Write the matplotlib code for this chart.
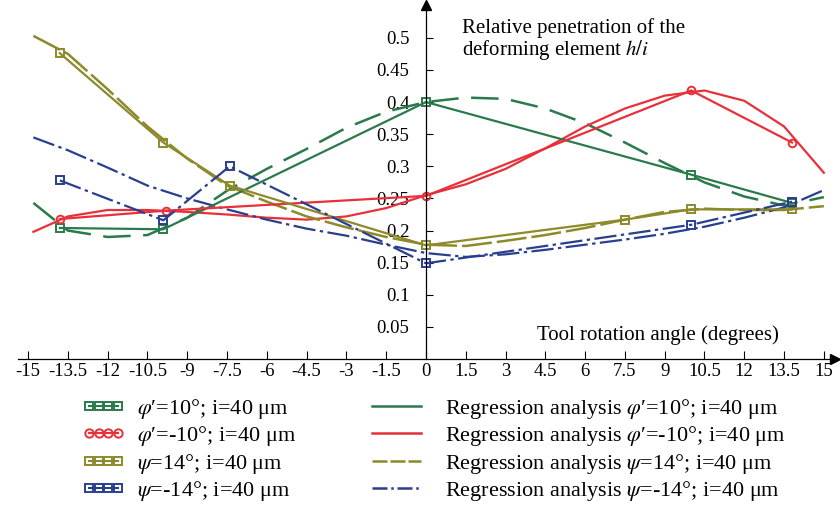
import numpy as np
import matplotlib.pyplot as plt
from matplotlib.lines import Line2D

plt.rcParams['font.family'] = ['Liberation Serif', 'DejaVu Serif']
plt.rcParams['mathtext.fontset'] = 'stix'

# measured points
x_phi_pos = [-13.8, -9.9, 0, 10, 13.8]
y_phi_pos = [0.204, 0.202, 0.400, 0.287, 0.243]
x_phi_neg = [-13.8, -9.8, 0, 10, 13.8]
y_phi_neg = [0.218, 0.231, 0.254, 0.418, 0.337]
x_psi_pos = [-13.8, -9.9, -7.4, 0, 7.5, 10, 13.8]
y_psi_pos = [0.476, 0.337, 0.270, 0.177, 0.217, 0.233, 0.233]
x_psi_neg = [-13.8, -9.9, -7.4, 0, 10, 13.8]
y_psi_neg = [0.278, 0.216, 0.300, 0.149, 0.209, 0.245]

# regression curves (read every 1.5 degrees)
x_reg = [-14.8, -13.5, -12, -10.5, -9, -7.5, -6, -4.5, -3, -1.5, 0,
         1.5, 3, 4.5, 6, 7.5, 9, 10.5, 12, 13.5, 15]
reg_phi_pos = [0.243, 0.200, 0.190, 0.193, 0.220, 0.262, 0.296, 0.327, 0.360, 0.385, 0.400,
               0.407, 0.405, 0.390, 0.367, 0.337, 0.305, 0.275, 0.253, 0.239, 0.252]
reg_phi_neg = [0.198, 0.222, 0.232, 0.232, 0.229, 0.225, 0.220, 0.217, 0.222, 0.235, 0.255,
               0.272, 0.296, 0.328, 0.362, 0.390, 0.410, 0.418, 0.402, 0.362, 0.290]
reg_psi_pos = [0.503, 0.475, 0.420, 0.362, 0.312, 0.270, 0.245, 0.222, 0.205, 0.190, 0.178,
               0.176, 0.184, 0.193, 0.204, 0.217, 0.229, 0.234, 0.232, 0.232, 0.238]
reg_psi_neg = [0.345, 0.325, 0.298, 0.270, 0.250, 0.233, 0.217, 0.203, 0.192, 0.178, 0.165,
               0.159, 0.163, 0.170, 0.178, 0.186, 0.195, 0.206, 0.220, 0.236, 0.263]

x_ticks = np.arange(-15, 15.01, 1.5)
y_ticks = np.arange(0.05, 0.501, 0.05)

green = '#2b7a4b'
red = '#e8303a'
olive = '#8c8a2a'
blue = '#283f8e'

fig = plt.figure(figsize=(8.4, 5.05), dpi=100)
ax = fig.add_axes([18 / 840, 0.289, 817 / 840, 0.701])
ax.set_xlim(-15.38, 15.42)
ax.set_ylim(0, 0.551)

mk = dict(marker='s', ms=6, mfc='none', mew=1.4, lw=1.6)
ax.plot(x_reg, reg_phi_pos, color=green, lw=1.8, dashes=(11, 5))
ax.plot(x_reg, reg_phi_neg, color=red, lw=1.6)
ax.plot(x_reg, reg_psi_pos, color=olive, lw=1.8, dashes=(12, 2))
ax.plot(x_reg, reg_psi_neg, color=blue, lw=1.6, dashes=(10, 2, 1.5, 2))
ax.plot(x_phi_pos, y_phi_pos, color=green, **mk)
ax.plot(x_phi_neg, y_phi_neg, color=red, **dict(mk, marker='o', ms=5.5))
ax.plot(x_psi_pos, y_psi_pos, color=olive, **mk)
ax.plot(x_psi_neg, y_psi_neg, color=blue, dashes=(10, 2, 1.5, 2), **mk)

# axes through origin with arrows
for s in ['top', 'right']:
    ax.spines[s].set_visible(False)
ax.spines['left'].set_position(('data', 0))
ax.spines['bottom'].set_position(('data', 0))
ax.spines['left'].set_linewidth(0.9)
ax.spines['bottom'].set_linewidth(0.9)
ax.plot(1, 0, '>k', ms=7, transform=ax.get_yaxis_transform(), clip_on=False)
ax.plot(0, 1, '^k', ms=7, transform=ax.get_xaxis_transform(), clip_on=False)

ax.set_xticks(x_ticks)
ax.set_xticklabels(['%g' % v for v in x_ticks])
ax.set_yticks(y_ticks)
ax.set_yticklabels(['%g' % v for v in y_ticks])
ax.tick_params(axis='x', direction='in', length=6, width=0.8, pad=3, labelsize=13.5)
ax.tick_params(axis='y', direction='in', length=5, width=0.8, pad=12, labelsize=13.5)

ax.text(1.35, 0.53, 'Relative penetration of the\ndeforming element $h/i$',
        fontsize=15, va='top', ha='left', linespacing=1.0)
ax.text(4.2, 0.038, 'Tool rotation angle (degrees)', fontsize=15, va='center', ha='left')

# legends
lab_pts = ["$\\varphi$′=10°; i=40 μm", "$\\varphi$′=-10°; i=40 μm",
           "$\\psi$=14°; i=40 μm", "$\\psi$=-14°; i=40 μm"]
h_pts = [Line2D([], [], color=green, marker='s', ms=6, mfc='none', mew=1.4, lw=1.5),
         Line2D([], [], color=red, marker='o', ms=6, mfc='none', mew=1.4, lw=1.5),
         Line2D([], [], color=olive, marker='s', ms=6, mfc='none', mew=1.4, lw=1.5),
         Line2D([], [], color=blue, marker='s', ms=6, mfc='none', mew=1.4, lw=1.5)]
fig.legend(h_pts, lab_pts, loc='upper left', bbox_to_anchor=(0.098, 0.214),
           frameon=False, numpoints=4, handlelength=1.9, handletextpad=0.55,
           fontsize=16, labelspacing=0.15, borderpad=0, borderaxespad=0)

lab_reg = ['Regression analysis ' + l for l in lab_pts]
h_reg = [Line2D([], [], color=green, lw=1.8),
         Line2D([], [], color=red, lw=1.8),
         Line2D([], [], color=olive, lw=1.8, dashes=(6, 1.2)),
         Line2D([], [], color=blue, lw=1.8, dashes=(6, 1.5, 1, 1.5))]
fig.legend(h_reg, lab_reg, loc='upper left', bbox_to_anchor=(0.443, 0.214),
           frameon=False, handlelength=2.2, handletextpad=1.1,
           fontsize=16, labelspacing=0.15, borderpad=0, borderaxespad=0)

fig.savefig('out.png', dpi=100)
